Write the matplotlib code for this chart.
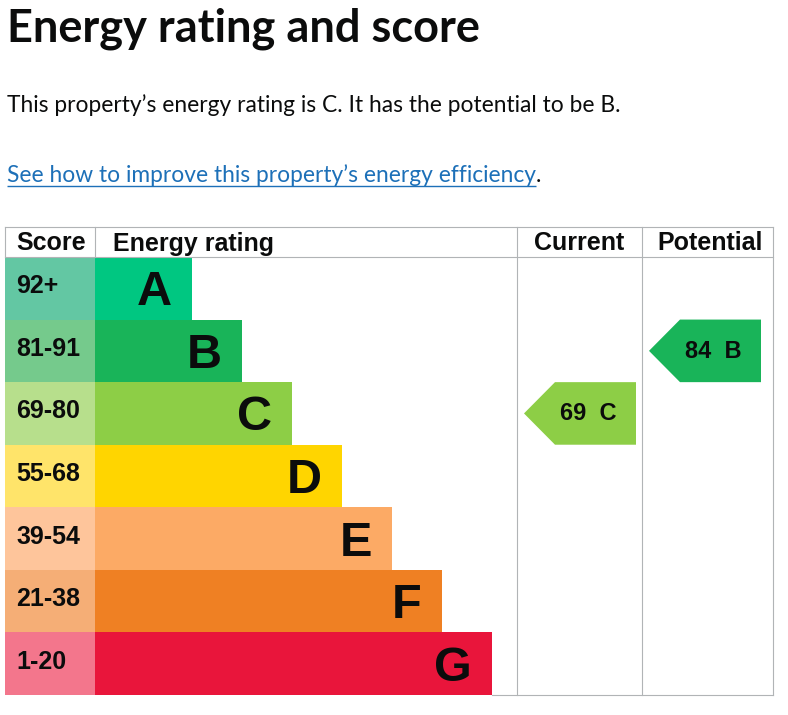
import matplotlib
matplotlib.use("Agg")
import matplotlib.pyplot as plt
from matplotlib.patches import Polygon

##############################################################################
# Data
##############################################################################

bands = ["A", "B", "C", "D", "E", "F", "G"]
score_ranges = ["92+", "81-91", "69-80", "55-68", "39-54", "21-38", "1-20"]
band_colours = ["#00c781", "#19b459", "#8dce46", "#ffd500", "#fcaa65", "#ef8023", "#e9153b"]
score_colours = ["#63c7a3", "#75ca8c", "#b7df8c", "#ffe46a", "#fec59b", "#f5ae76", "#f3768c"]

current_score = 69
current_band = "C"
potential_score = 84
potential_band = "B"

title = "Energy rating and score"
summary = "This property\u2019s energy rating is C. It has the potential to be B."
link_text = "See how to improve this property\u2019s energy efficiency"

##############################################################################
# Layout (pixels)
##############################################################################

W, H = 788, 715
table_left, table_right = 5, 773
table_top, header_bottom, table_bottom = 227, 257, 695
score_right = 95
current_left, potential_left = 517, 642
row_h = (table_bottom - header_bottom) / len(bands)
bar_start_len, bar_step = 97, 50
grid_col = "#b1b4b6"
text_col = "#0b0c0c"
cell_font = 18

fig = plt.figure(figsize=(W / 100, H / 100), dpi=100)
ax = fig.add_axes([0, 0, 1, 1])
ax.set_xlim(0, W)
ax.set_ylim(H, 0)
ax.axis("off")

# Heading and text
ax.text(7, 42, title, fontsize=32.5, fontweight="bold", family="Lato",
        color=text_col, va="baseline", ha="left")
ax.text(7, 112, summary, fontsize=16.4, family="Lato", color=text_col,
        va="baseline", ha="left")
link = ax.text(7, 182, link_text, fontsize=16.4, family="Lato", color="#1d70b8",
               va="baseline", ha="left")
fig.canvas.draw()
bb = link.get_window_extent()
x0, x1 = bb.x0, bb.x1
ax.plot([x0, x1], [185.5, 185.5], color="#1d70b8", lw=1.0, solid_capstyle="butt")
ax.text(x1, 182, ".", fontsize=16.4, family="Lato", color=text_col,
        va="baseline", ha="left")

# Bars
row_centres = [header_bottom + row_h * (i + 0.5) for i in range(len(bands))]
ax.barh(row_centres, [score_right - table_left] * len(bands), left=table_left,
        height=row_h, color=score_colours, edgecolor="none")
bar_lengths = [bar_start_len + bar_step * i for i in range(len(bands))]
ax.barh(row_centres, bar_lengths, left=score_right, height=row_h,
        color=band_colours, edgecolor="none")

for i, band in enumerate(bands):
    ax.text(16, row_centres[i] + 5, score_ranges[i], fontsize=cell_font, fontweight="bold",
            family="Liberation Sans", color=text_col, va="baseline", ha="left")
    ax.text(score_right + bar_lengths[i] - 20, row_centres[i] + 17, band,
            fontsize=35, fontweight="bold", family="Liberation Sans",
            color=text_col, va="baseline", ha="right")

# Grid lines
lw = 0.8
ax.plot([table_left, table_right], [table_top, table_top], color=grid_col, lw=lw)
ax.plot([table_left, table_right], [header_bottom, header_bottom], color=grid_col, lw=lw)
ax.plot([score_right + bar_lengths[-1], table_right], [table_bottom, table_bottom], color=grid_col, lw=lw)
ax.plot([table_left, table_left], [table_top, header_bottom], color=grid_col, lw=lw)
ax.plot([score_right, score_right], [table_top, header_bottom], color=grid_col, lw=lw)
for x in [current_left, potential_left, table_right]:
    ax.plot([x, x], [table_top, table_bottom], color=grid_col, lw=lw)

# Headers
hy = 250.5
ax.text(16, hy, "Score", fontsize=cell_font, fontweight="bold", family="Liberation Sans",
        color=text_col, va="baseline", ha="left")
ax.text(113, hy, "Energy rating", fontsize=cell_font, fontweight="bold", family="Liberation Sans",
        color=text_col, va="baseline", ha="left")
ax.text((current_left + potential_left) / 2, hy, "Current", fontsize=cell_font, fontweight="bold",
        family="Liberation Sans", color=text_col, va="baseline", ha="center")
ax.text((potential_left + table_right) / 2 + 3, hy, "Potential", fontsize=cell_font, fontweight="bold",
        family="Liberation Sans", color=text_col, va="baseline", ha="center")


# Arrows
def draw_arrow(col_left, score, band):
    i = bands.index(band)
    top = header_bottom + row_h * i
    bot = top + row_h
    mid = (top + bot) / 2
    tip = col_left + 7
    body = tip + 31
    right = tip + 112
    pts = [(tip, mid), (body, top), (right, top), (right, bot), (body, bot)]
    ax.add_patch(Polygon(pts, closed=True, facecolor=band_colours[i], edgecolor="none"))
    ax.text((body + right) / 2 - 7, mid + 7, f"{score}  {band}", fontsize=17,
            fontweight="bold", family="Liberation Sans", color=text_col,
            va="baseline", ha="center")


draw_arrow(current_left, current_score, current_band)
draw_arrow(potential_left, potential_score, potential_band)

fig.savefig("out.png", dpi=100, facecolor="white")
